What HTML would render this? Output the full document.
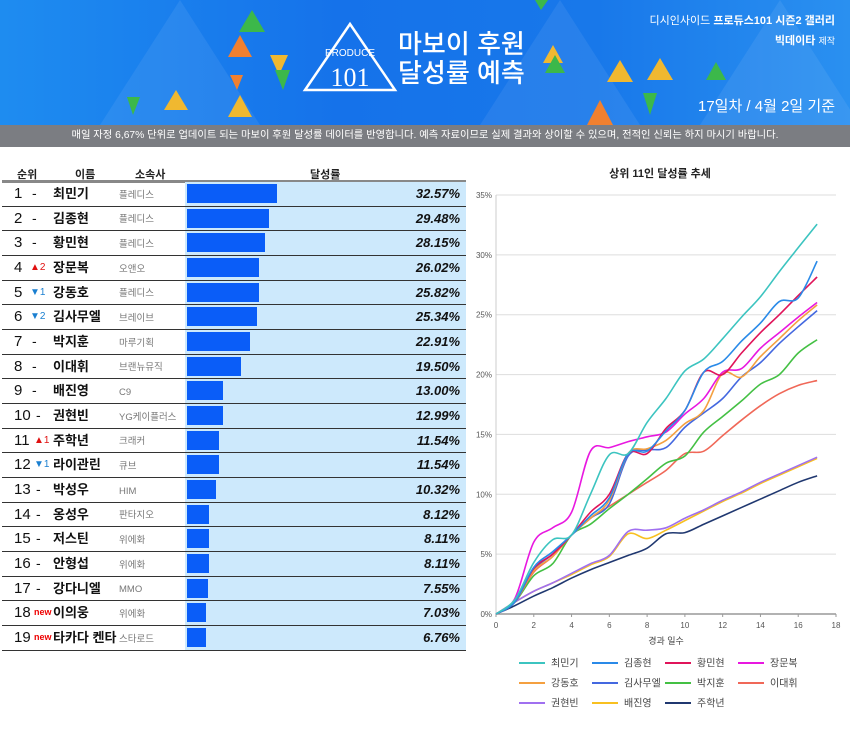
<!DOCTYPE html>
<html><head><meta charset="utf-8">
<style>
body{margin:0;width:850px;height:733px;background:#fff;font-family:"Liberation Sans","Noto Sans CJK KR",sans-serif;position:relative;overflow:hidden}
#header{position:absolute;left:0;top:0;width:850px;height:125px;background:linear-gradient(90deg,#1e8cf0 0%,#1572ea 40%,#1878ea 70%,#2a90f0 100%);overflow:hidden}
#notice{position:absolute;left:0;top:125px;width:850px;height:22px;background:#7b7d82;color:#fff;font-size:10.3px;line-height:22px;text-align:center}
.abs{position:absolute}
.hd{position:absolute;top:166px;font-size:11px;font-weight:bold;color:#222}
.row{position:absolute;left:2px;width:464px;height:24.67px;border-bottom:1.5px solid #333;box-sizing:border-box;line-height:23px}
.row .rk{position:absolute;left:12px;top:0;font-size:15px;color:#111}
.row .ch{position:absolute;left:28px;top:0;font-size:10px}
.row .nm{position:absolute;left:51px;top:0;font-size:13px;font-weight:bold;color:#111}
.row .co{position:absolute;left:117px;top:1.5px;font-size:9.5px;color:#777}
.row .bg{position:absolute;left:183px;top:0;width:281px;height:100%;background:#cde9fc}
.row .bar{position:absolute;left:185px;top:2px;height:19px;background:#0a5df8}
.row .pc{position:absolute;right:6px;top:0;font-size:13px;font-weight:bold;font-style:italic;color:#111}
</style></head><body>
<div id="header">
<svg width="850" height="125" style="position:absolute;left:0;top:0">
<g opacity="0.07" fill="#fff">
<polygon points="180,0 260,125 100,125"/><polygon points="560,0 640,125 480,125"/><polygon points="700,125 780,0 860,125"/>
</g>
<polygon points="252,10 265,32 239,32" fill="#3cb84a"/>
<polygon points="240,35 252,57 228,57" fill="#f08030"/>
<polygon points="270,55 288,55 279,75" fill="#f0b830"/>
<polygon points="127,97 140,97 133,115" fill="#3cb84a"/>
<polygon points="176,90 188,110 164,110" fill="#f0b830"/>
<polygon points="230,75 243,75 237,90" fill="#f08030"/>
<polygon points="240,95 252,117 228,117" fill="#f0b830"/>
<polygon points="275,70 290,70 283,90" fill="#3cb84a"/>
<polygon points="535,0 548,0 541,10" fill="#3cb84a"/>
<polygon points="553,45 563,63 543,63" fill="#f0b830"/>
<polygon points="555,55 565,73 545,73" fill="#3cb84a"/>
<polygon points="620,60 633,82 607,82" fill="#f0b830"/>
<polygon points="660,58 673,80 647,80" fill="#f0b830"/>
<polygon points="600,100 613,125 587,125" fill="#f08030"/>
<polygon points="643,93 657,93 650,115" fill="#3cb84a"/>
<polygon points="716,62 726,80 706,80" fill="#3cb84a"/>
<polygon points="327,24 372,90 282,90" fill="none" stroke="#fff" stroke-width="2.5" transform="translate(23,0)"/>
<text x="350" y="56" fill="#fff" font-size="10" text-anchor="middle" font-family="Liberation Sans Narrow,Liberation Sans,sans-serif">PRODUCE</text>
<text x="350" y="86" fill="#fff" font-size="26" text-anchor="middle" font-family="Liberation Serif,serif">101</text>
</svg>
<div class="abs" style="left:398px;top:30px;font-size:26px;line-height:29px;color:#fff;font-weight:500">마보이 후원<br>달성률 예측</div>
<div class="abs" style="right:15px;top:11px;font-size:11px;color:#fff;text-align:right;line-height:20px">디시인사이드 <b>프로듀스101 시즌2 갤러리</b><br><b>빅데이타</b> <span style="font-size:9px">제작</span></div>
<div class="abs" style="right:15px;top:95px;font-size:15px;color:#fff">17일차 / 4월 2일 기준</div>
</div>
<div id="notice">매일 자정 6,67% 단위로 업데이트 되는 마보이 후원 달성률 데이터를 반영합니다. 예측 자료이므로 실제 결과와 상이할 수 있으며, 전적인 신뢰는 하지 마시기 바랍니다.</div>

<div class="hd" style="left:17px">순위</div>
<div class="hd" style="left:75px">이름</div>
<div class="hd" style="left:135px">소속사</div>
<div class="hd" style="left:310px">달성률</div>
<div class="abs" style="left:2px;top:180px;width:464px;height:2.5px;background:#888"></div>
<div id="rows"></div>

<svg id="chart" class="abs" style="left:470px;top:160px" width="380" height="573"></svg>

<script>
const ranks=[1,2,3,4,5,6,7,8,9,10,11,12,13,14,15,16,17,18,19];
const changes=['-','-','-','▲2','▼1','▼2','-','-','-','-','▲1','▼1','-','-','-','-','-','new','new'];
const names=['최민기','김종현','황민현','장문복','강동호','김사무엘','박지훈','이대휘','배진영','권현빈','주학년','라이관린','박성우','옹성우','저스틴','안형섭','강다니엘','이의웅','타카다 켄타'];
const companies=['플레디스','플레디스','플레디스','오앤오','플레디스','브레이브','마루기획','브랜뉴뮤직','C9','YG케이플러스','크래커','큐브','HIM','판타지오','위에화','위에화','MMO','위에화','스타로드'];
const rates=[32.57,29.48,28.15,26.02,25.82,25.34,22.91,19.50,13.00,12.99,11.54,11.54,10.32,8.12,8.11,8.11,7.55,7.03,6.76];
const rowsEl=document.getElementById('rows');
rates.forEach((r,i)=>{
 const row=document.createElement('div');
 row.className='row';
 row.style.top=(182+i*24.67)+'px';
 
 
 let ch=changes[i],chHtml;
 if(ch==='-')chHtml='<span style="font-size:14px;color:#111;position:relative;left:2px">-</span>';
 else if(ch==='new')chHtml='<span style="color:#e00;font-weight:bold;font-size:9px">new</span>';
 else if(ch[0]==='▲')chHtml='<span style="color:#e01010;font-size:10px">'+ch+'</span>';
 else chHtml='<span style="color:#1a7fd0;font-size:10px">'+ch+'</span>';
 const rk=ranks[i];
 row.innerHTML='<div class="rk">'+rk+'</div><div class="ch" style="left:'+(rk>=10?32:28)+'px">'+chHtml+'</div><div class="nm">'+names[i]+'</div><div class="co">'+companies[i]+'</div><div class="bg"></div><div class="bar" style="width:'+(r*2.77)+'px"></div><div class="pc">'+r.toFixed(2)+'%</div>';
 rowsEl.appendChild(row);
});
</script>
<script>
const seriesNames=['최민기','김종현','황민현','장문복','강동호','김사무엘','박지훈','이대휘','권현빈','배진영','주학년'];
const colors=['#3cc4c0','#2a8ae8','#e0145a','#e818e0','#f4a040','#4468e0','#44c044','#f06858','#a070f0','#f8c020','#203870'];
const days=[0,1,2,3,4,5,6,7,8,9,10,11,12,13,14,15,16,17];
const sChoi=[0,1.2,4.3,6.2,6.6,10,13.3,13.4,16,18,20.3,21.3,23,24.8,26.5,28.6,30.6,32.57];
const sKimJ=[0,1,3.9,5.2,6.6,8.2,9.7,13.4,13.6,15.3,17,20.2,21.1,22.8,24.3,26.1,26.4,29.48];
const sHwang=[0,1,3.8,5,6.6,8.5,10,13.4,13.4,15.5,17,20.2,20,21.8,23.5,25,26.6,28.15];
const sJang=[0,1.3,6,7.2,8.5,13.6,13.9,14.4,14.8,15.2,16.7,18,20.2,20.5,22.2,23.5,24.8,26.02];
const sKang=[0,1,3.6,4.8,6.6,8,9.5,13.4,13.8,14.5,15.9,17,20.1,19.8,21.5,23,24.5,25.82];
const sKimS=[0,1,3.7,5,6.6,8,9.2,13.2,13.7,13.9,15.6,16.8,18,19.8,21,22.6,24,25.34];
const sPark=[0,1,3.2,4.2,6.6,7.5,8.8,10,11.3,12.6,13.2,15.2,16.5,17.8,19.2,20,21.8,22.91];
const sLee=[0,1,3.5,4.8,6.6,8,9,10,11,12,13.4,13.6,14.9,16.2,17.4,18.4,19.1,19.5];
const sKwon=[0,1,1.9,2.6,3.4,4.2,4.9,6.9,7,7.2,8,8.7,9.5,10.2,11,11.7,12.4,13.1];
const sBae=[0,1,1.9,2.6,3.3,4.1,4.8,6.7,6.3,7,7.8,8.6,9.4,10.1,10.9,11.6,12.3,13];
const sJu=[0,0.7,1.5,2.2,3,3.7,4.3,4.9,5.5,6.7,6.8,7.5,8.2,8.9,9.6,10.3,11,11.54];
const allSeries=[sChoi,sKimJ,sHwang,sJang,sKang,sKimS,sPark,sLee,sKwon,sBae,sJu];
const yTicks=[0,5,10,15,20,25,30,35];
const xTicks=[0,2,4,6,8,10,12,14,16,18];
const NS='http://www.w3.org/2000/svg';
const svg=document.getElementById('chart');
const X0=26,X1=366,Y0=454,Y1=35;
const xs=d=>X0+d/18*(X1-X0);
const ys=v=>Y0-v/35*(Y0-Y1);
function mk(t,a,txt){const e=document.createElementNS(NS,t);for(const k in a)e.setAttribute(k,a[k]);if(txt!=null)e.textContent=txt;svg.appendChild(e);return e;}
let t=mk('text',{x:190,y:17,'text-anchor':'middle','font-size':11,'font-weight':'bold',fill:'#222'},'상위 11인 달성률 추세');


yTicks.forEach(v=>{
 const l=mk('line',{x1:X0,x2:X1,y1:ys(v),y2:ys(v),stroke:v===0?'#999':'#ddd','stroke-width':v===0?1.5:1});
 
 
 const tx=mk('text',{x:X0-4,y:ys(v)+3,'text-anchor':'end','font-size':8,fill:'#555'},v+'%');
 
 
});
mk('line',{x1:X0,x2:X0,y1:Y1,y2:Y0,stroke:'#ccc','stroke-width':1});
xTicks.forEach(v=>{
 mk('line',{x1:xs(v),x2:xs(v),y1:Y0,y2:Y0+3,stroke:'#999'});
 const tx=mk('text',{x:xs(v),y:Y0+14,'text-anchor':'middle','font-size':8,fill:'#555'},v);
 
 
});
t=mk('text',{x:(X0+X1)/2,y:Y0+30,'text-anchor':'middle','font-size':9,fill:'#444'},'경과 일수');


function pathOf(vals){
 const p=vals.map((v,i)=>[xs(days[i]),ys(v)]);
 let d='M'+p[0][0]+','+p[0][1];
 for(let i=0;i<p.length-1;i++){
  const p0=p[Math.max(i-1,0)],p1=p[i],p2=p[i+1],p3=p[Math.min(i+2,p.length-1)];
  const c1=[p1[0]+(p2[0]-p0[0])/6,p1[1]+(p2[1]-p0[1])/6];
  const c2=[p2[0]-(p3[0]-p1[0])/6,p2[1]-(p3[1]-p1[1])/6];
  d+=' C'+c1[0]+','+c1[1]+' '+c2[0]+','+c2[1]+' '+p2[0]+','+p2[1];
 }
 return d;
}
for(let k=allSeries.length-1;k>=0;k--){
 const pth=mk('path',{d:pathOf(allSeries[k]),fill:'none',stroke:colors[k],'stroke-width':1.6});
 
 
}
seriesNames.forEach((n,i)=>{
 const col=i%4,row=Math.floor(i/4);
 const lx=49+col*73,ly=503+row*20;
 const g=document.createElementNS(NS,'g');
 
 
 svg.appendChild(g);
 const l=document.createElementNS(NS,'line');
 l.setAttribute('x1',lx);l.setAttribute('x2',lx+26);l.setAttribute('y1',ly);l.setAttribute('y2',ly);
 l.setAttribute('stroke',colors[i]);l.setAttribute('stroke-width',2);
 g.appendChild(l);
 const tx=document.createElementNS(NS,'text');
 tx.setAttribute('x',lx+32);tx.setAttribute('y',ly+3.5);tx.setAttribute('font-size',10);tx.setAttribute('fill','#444');
 tx.textContent=n;
 g.appendChild(tx);
});
</script>
</body></html>
